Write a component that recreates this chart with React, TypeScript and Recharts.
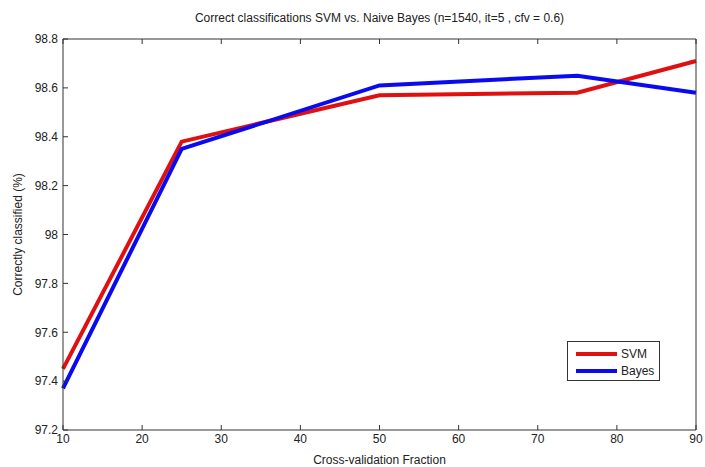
import React from "react";

import { LineChart, Line, XAxis, YAxis, Legend } from 'recharts';


// cross-validation fraction (%)
const fractions = [10, 25, 50, 75, 90];
const svmValues = [97.45, 98.38, 98.57, 98.58, 98.71];
const bayesValues = [97.37, 98.35, 98.61, 98.65, 98.58];

const xTicks = [10, 20, 30, 40, 50, 60, 70, 80, 90];
const yTicks = [97.2, 97.4, 97.6, 97.8, 98, 98.2, 98.4, 98.6, 98.8];

const chartData = fractions.map((f, i) => ({ x: f, svm: svmValues[i], bayes: bayesValues[i] }));

const FONT = 'Arial, "Liberation Sans", sans-serif';
const TEXT = '#222';
const AXIS = '#333';

const renderLegend = () => (
    <div style={{
        border: `1px solid ${AXIS}`,
        background: '#fff',
        width: 93,
        height: 40,
        boxSizing: 'border-box',
        fontFamily: FONT,
        fontSize: 12,
        color: TEXT,
        padding: '3px 0 0 8px',
    }}>
        <div style={{ display: 'flex', alignItems: 'center', height: 17 }}>
            <span style={{ display: 'inline-block', width: 41, height: 4, background: '#e01010', marginRight: 4 }} />
            SVM
        </div>
        <div style={{ display: 'flex', alignItems: 'center', height: 17 }}>
            <span style={{ display: 'inline-block', width: 41, height: 4, background: '#0a0af0', marginRight: 4 }} />
            Bayes
        </div>
    </div>
);

const App: React.FC = () => {
    return (
        <div style={{ position: 'absolute', left: 0, top: 0, width: 705, height: 467, background: '#fff' }}>
            <div style={{
                position: 'absolute', left: 63, top: 11, width: 633, textAlign: 'center',
                fontFamily: FONT, fontSize: 12, color: TEXT,
            }}>
                Correct classifications SVM vs. Naive Bayes (n=1540, it=5 , cfv = 0.6)
            </div>
            <LineChart
                width={705}
                height={467}
                data={chartData}
                margin={{ top: 38, right: 0, left: 0, bottom: 0 }}
                style={{ fontFamily: FONT }}
            >
                <XAxis
                    dataKey="x"
                    type="number"
                    domain={[10, 90]}
                    ticks={xTicks}
                    height={37}
                    stroke={AXIS}
                    tickSize={-5}
                    tickMargin={9}
                    tick={{ fill: TEXT, fontSize: 12 }}
                    label={{ value: 'Cross-validation Fraction', position: 'insideBottom', offset: 3, fill: TEXT, fontSize: 12 }}
                />
                <XAxis
                    xAxisId="top"
                    orientation="top"
                    dataKey="x"
                    type="number"
                    domain={[10, 90]}
                    ticks={xTicks}
                    height={1}
                    stroke={AXIS}
                    tickSize={-5}
                    tickFormatter={() => ''}
                />
                <YAxis
                    type="number"
                    domain={[97.2, 98.8]}
                    ticks={yTicks}
                    width={63}
                    stroke={AXIS}
                    tickSize={-5}
                    tickMargin={10}
                    tick={{ fill: TEXT, fontSize: 12 }}
                    tickFormatter={(v: number) => String(Number(v.toFixed(1)))}
                    label={({ viewBox }: any) => {
                        const cy = viewBox.y + viewBox.height / 2;
                        return (
                            <text x={22} y={cy} transform={`rotate(-90, 22, ${cy})`} textAnchor="middle"
                                fill={TEXT} fontSize={12} fontFamily={FONT}>
                                Correctly classified (%)
                            </text>
                        );
                    }}
                />
                <YAxis
                    yAxisId="right"
                    orientation="right"
                    type="number"
                    domain={[97.2, 98.8]}
                    ticks={yTicks}
                    width={9}
                    stroke={AXIS}
                    tickSize={-5}
                    tickFormatter={() => ''}
                />
                <Legend
                    content={renderLegend}
                    layout="horizontal"
                    verticalAlign="middle"
                    wrapperStyle={{ position: 'absolute', left: 567, top: 341, width: 93 }}
                />
                <Line
                    type="linear"
                    dataKey="svm"
                    name="SVM"
                    stroke="#e01010"
                    strokeWidth={4}
                    dot={false}
                    isAnimationActive={false}
                />
                <Line
                    type="linear"
                    dataKey="bayes"
                    name="Bayes"
                    stroke="#0a0af0"
                    strokeWidth={4}
                    dot={false}
                    isAnimationActive={false}
                />
            </LineChart>
        </div>
    );
}


export default App;
